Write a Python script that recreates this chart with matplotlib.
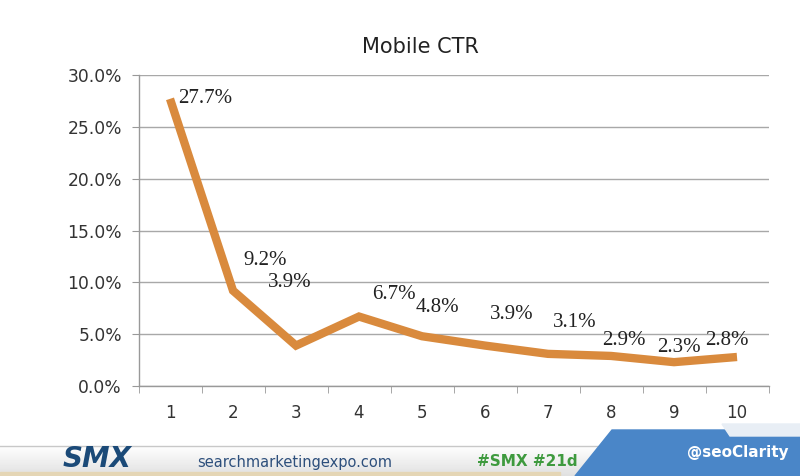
import matplotlib
matplotlib.use("Agg")
import matplotlib.pyplot as plt
from matplotlib.patches import Polygon, Rectangle
import numpy as np

positions = [1, 2, 3, 4, 5, 6, 7, 8, 9, 10]
ctr = [27.7, 9.2, 3.9, 6.7, 4.8, 3.9, 3.1, 2.9, 2.3, 2.8]
labels = ["27.7%", "9.2%", "3.9%", "6.7%", "4.8%", "3.9%", "3.1%", "2.9%", "2.3%", "2.8%"]
label_offsets = [(35, 0), (32, 30), (-6, 63), (35, 22), (15, 29), (27, 31), (27, 31), (13, 15), (5, 15), (-10, 16)]
yticks = [0, 5, 10, 15, 20, 25, 30]

W, H = 800, 476
fig = plt.figure(figsize=(W / 100, H / 100), dpi=100)
fig.patch.set_facecolor("white")

ax = fig.add_axes([138.5 / W, 1 - 386 / H, 630 / W, 311 / H])
ax.plot(positions, ctr, color="#D98A3D", lw=6.0, solid_joinstyle="miter", solid_capstyle="butt", zorder=3)
for x, y, t, (dx, dy) in zip(positions, ctr, labels, label_offsets):
    ax.annotate(t, (x, y), xytext=(dx, dy), textcoords="offset pixels", ha="center", va="center",
                fontsize=15, family="Liberation Serif", color="#222222", zorder=4)

ax.set_xlim(0.5, 10.5)
ax.set_ylim(0, 30)
ax.set_yticks(yticks)
ax.set_yticklabels([f"{v:.1f}%" for v in yticks])
ax.set_xticks(positions)
ax.set_xticklabels([str(p) for p in positions])
ax.set_xticks(np.arange(0.5, 11, 1), minor=True)
ax.tick_params(axis="x", which="major", length=0, pad=13, labelsize=12, labelcolor="#333333")
ax.tick_params(axis="x", which="minor", length=5, color="#999999", direction="out")
ax.tick_params(axis="y", which="major", length=5, color="#999999", labelsize=12.3, labelcolor="#333333", pad=7)
ax.grid(axis="y", color="#A8A8A8", lw=1)
ax.set_axisbelow(True)
for s in ["top", "right"]:
    ax.spines[s].set_visible(False)
for s in ["left", "bottom"]:
    ax.spines[s].set_color("#999999")
    ax.spines[s].set_linewidth(1)
for lab in ax.get_xticklabels() + ax.get_yticklabels():
    lab.set_family("DejaVu Sans")

fig.text(420 / W, 1 - 47 / H, "Mobile CTR", ha="center", va="center", fontsize=15, color="#222222")

# footer
fa = fig.add_axes([0, 0, 1, 1], zorder=-1)
fa.set_xlim(0, W)
fa.set_ylim(H, 0)
fa.axis("off")
grad = np.linspace(1.0, 0.88, 50).reshape(-1, 1)
fa.imshow(grad, cmap="gray", vmin=0, vmax=1, extent=[0, W, 476, 445], aspect="auto", zorder=0)
fa.plot([0, W], [446, 446], color="#C8C8C8", lw=1, zorder=1)
fa.add_patch(Rectangle((0, 472), 560, 4, color="#E5D6B5", zorder=1))
fa.add_patch(Polygon([[575, 476], [612, 430], [800, 430], [800, 476]], closed=True, color="#4A86C8", zorder=2))
fa.add_patch(Polygon([[722, 424], [730, 436], [800, 436], [800, 424]], closed=True, color="#E8EEF5", zorder=3))
fa.text(97, 459, "SMX", ha="center", va="center", fontsize=20, fontweight="bold", fontstyle="italic",
        color="#1B4A78", family="DejaVu Sans", zorder=4)
fa.text(197, 462, "searchmarketingexpo.com", ha="left", va="center", fontsize=10.5, color="#2D4F7C",
        family="DejaVu Sans", zorder=4)
fa.text(477, 462, "#SMX #21d", ha="left", va="center", fontsize=11, fontweight="bold", color="#3E9A3E",
        family="DejaVu Sans", zorder=4)
fa.text(738, 452, "@seoClarity", ha="center", va="center", fontsize=11, fontweight="bold", color="white",
        family="DejaVu Sans", zorder=4)

fig.savefig("out.png", dpi=100, facecolor="white")
